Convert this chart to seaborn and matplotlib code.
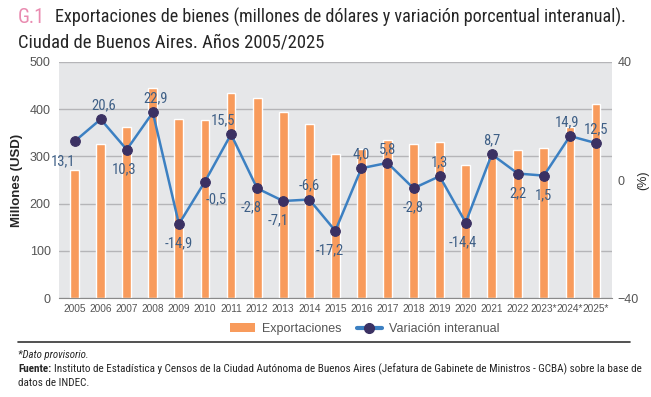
import numpy as np
import matplotlib
matplotlib.use("Agg")
import matplotlib.pyplot as plt
import seaborn as sns
from matplotlib.patches import Patch
from matplotlib.lines import Line2D
from matplotlib import font_manager

years = ["2005", "2006", "2007", "2008", "2009", "2010", "2011", "2012", "2013", "2014",
         "2015", "2016", "2017", "2018", "2019", "2020", "2021", "2022", "2023*", "2024*", "2025*"]
exports = [272, 327, 362, 445, 379, 377, 435, 424, 394, 369,
           305, 316, 335, 326, 331, 282, 300, 314, 318, 363, 412]
variation = [13.1, 20.6, 10.3, 22.9, -14.9, -0.5, 15.5, -2.8, -7.1, -6.6,
             -17.2, 4.0, 5.8, -2.8, 1.3, -14.4, 8.7, 2.2, 1.5, 14.9, 12.5]
# where each value label sits relative to its point (dx, dy in points)
label_pos = [(-8, -14), (2, 10), (-2, -14), (2, 10), (0, -14), (8, -13), (-6, 10), (-4, -14),
             (-4, -14), (0, 10), (-4, -14), (0, 10), (0, 10), (0, -14), (0, 10), (-2, -14),
             (0, 10), (0, -14), (0, -14), (-2, 10), (0, 10)]

# look for a condensed face, the reference uses one
entries = font_manager.fontManager.ttflist
cond = None
for want in ["Roboto Condensed", "Liberation Sans Narrow", "Open Sans Condensed"]:
    for f in entries:
        if f.name == want and f.weight in (400, "normal", "regular") and f.style == "normal":
            cond = f
            break
    if cond:
        break
if cond is None:
    for f in entries:
        if f.name == "DejaVu Sans" and f.stretch == "condensed" and f.style == "normal" \
                and f.weight in (400, "normal"):
            cond = f
            break
cond_name = cond.name if cond else "DejaVu Sans"
cond_stretch = cond.stretch if cond else "normal"


def cfont(size, weight="normal", style="normal"):
    return dict(family=[cond_name, "DejaVu Sans"], fontstretch=cond_stretch, fontsize=size,
                fontweight=weight, fontstyle=style)


ORANGE = "#F89B5C"
BLUE = "#3C80C2"
DOT = "#3B3163"
LABEL = "#3E5F86"
BG = "#E6E7E9"
TICK = "#555555"

sns.set_style("white")
plt.rcParams["font.family"] = ["Liberation Sans", "DejaVu Sans"]

fig = plt.figure(figsize=(6.51, 3.97), dpi=100)
ax = fig.add_axes([0.0906, 0.249, 0.849, 0.595])
ax.set_facecolor(BG)

sns.barplot(x=years, y=exports, ax=ax, color=ORANGE, width=0.34, saturation=1, zorder=2)
ax.set_ylim(0, 500)
ax.set_yticks(range(0, 501, 100))
ax.yaxis.grid(True, color="#B5B5B8", linewidth=1.0, zorder=1)
ax.set_axisbelow(True)
ax.set_xlim(-0.6, len(years) - 0.4)
for s in ["top", "right", "left"]:
    ax.spines[s].set_visible(False)
ax.spines["bottom"].set_color("#8A8A8A")
ax.tick_params(axis="x", length=0, labelsize=7.3, labelcolor=TICK, pad=4)
ax.tick_params(axis="y", length=0, labelsize=9, labelcolor=TICK, pad=6)
ax.set_ylabel("Millones (USD)", fontsize=9.5, fontweight="bold", labelpad=5)
ax.set_xlabel("")

ax2 = ax.twinx()
sns.lineplot(x=np.arange(len(years)), y=variation, ax=ax2, color=BLUE, linewidth=1.8,
             marker="o", markersize=7, markerfacecolor=DOT, markeredgecolor=DOT, zorder=4)
ax2.set_ylim(-40, 40)
ax2.set_yticks([-40, 0, 40])
for s in ["top", "right", "left", "bottom"]:
    ax2.spines[s].set_visible(False)
ax2.tick_params(axis="y", length=0, labelsize=9, labelcolor=TICK, pad=4)
ax2.set_ylabel("(%)", fontsize=9, rotation=90)
ax2.yaxis.set_label_coords(1.047, 0.5)
ax2.grid(False)

for i, (v, (dx, dy)) in enumerate(zip(variation, label_pos)):
    ax2.annotate(f"{v:.1f}".replace(".", ","), (i, v), xytext=(dx, dy), textcoords="offset points",
                 ha="center", va="center", color=LABEL, zorder=5, **cfont(10.5))

# title
fig.text(0.028, 0.955, "G.1", color="#E98BB0", va="center", **cfont(14.5))
fig.text(0.084, 0.955, "Exportaciones de bienes (millones de dólares y variación porcentual interanual).",
         va="center", **cfont(13.1))
fig.text(0.028, 0.893, "Ciudad de Buenos Aires. Años 2005/2025", va="center", **cfont(13.4))

handles = [Patch(facecolor=ORANGE, edgecolor="none", label="Exportaciones"),
           Line2D([0], [0], color=BLUE, linewidth=3, marker="o", markersize=7,
                  markerfacecolor=DOT, markeredgecolor=DOT, label="Variación interanual")]
fig.legend(handles=handles, loc="center", bbox_to_anchor=(0.56, 0.171), ncol=2, frameon=False,
           fontsize=9, handlelength=2.0, columnspacing=1.2, handletextpad=0.6,
           labelcolor=TICK)

fig.add_artist(Line2D([0.028, 0.967], [0.139, 0.139], color="#333333", linewidth=1.2))
fig.text(0.028, 0.106, "*Dato provisorio.", va="center", **cfont(7.8, style="italic"))
t = fig.text(0.028, 0.071, "Fuente:", va="center", **cfont(8, weight="bold"))
fig.canvas.draw()
bb = t.get_window_extent().transformed(fig.transFigure.inverted())
fig.text(bb.x1 + 0.004, 0.071, "Instituto de Estadística y Censos de la Ciudad Autónoma de Buenos Aires "
         "(Jefatura de Gabinete de Ministros - GCBA) sobre la base de", va="center", **cfont(8))
fig.text(0.028, 0.036, "datos de INDEC.", va="center", **cfont(8))

fig.savefig("out.png", dpi=100)
